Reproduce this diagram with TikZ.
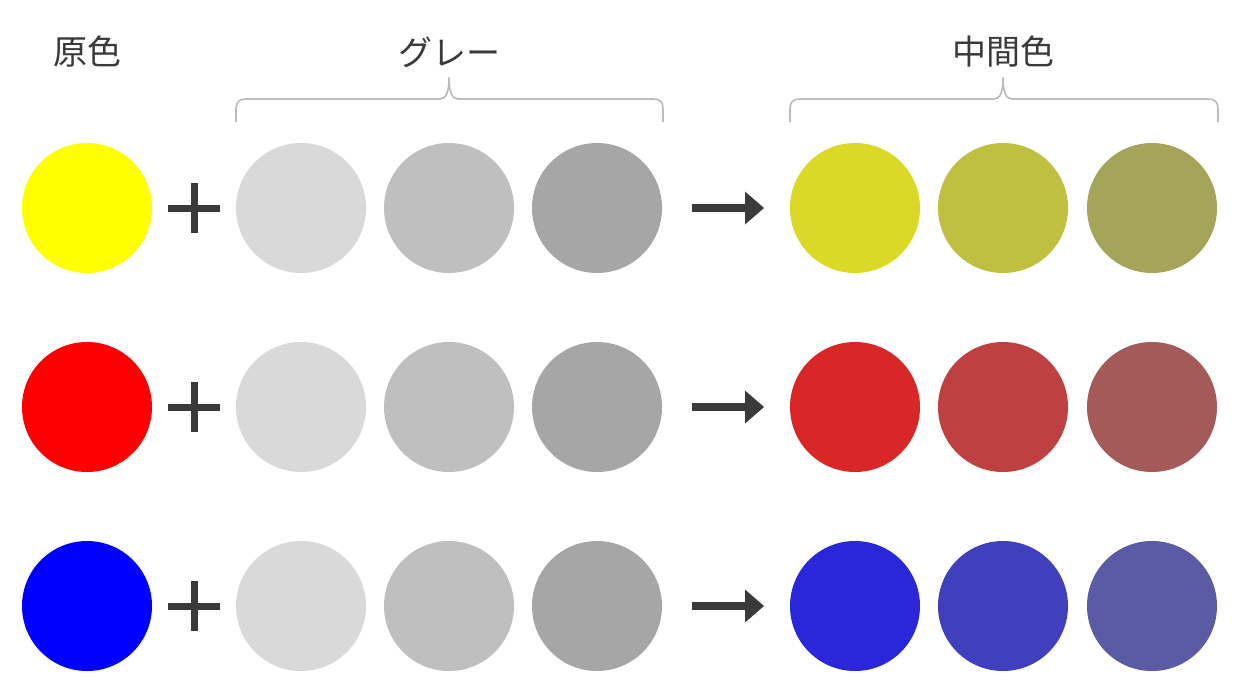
\documentclass[tikz,border=0pt]{standalone}
\usepackage{fontspec}
\newfontfamily\jp{Noto Sans CJK JP}
\definecolor{txt}{HTML}{3A3A3A}
\definecolor{pY}{HTML}{FFFF00}
\definecolor{pR}{HTML}{FF0000}
\definecolor{pB}{HTML}{0000FF}
\definecolor{gA}{HTML}{D9D9D9}
\definecolor{gB}{HTML}{BFBFBF}
\definecolor{gC}{HTML}{A6A6A6}
\definecolor{yA}{HTML}{D9D926}
\definecolor{yB}{HTML}{BFBF40}
\definecolor{yC}{HTML}{A5A55A}
\definecolor{rA}{HTML}{D92626}
\definecolor{rB}{HTML}{BF4040}
\definecolor{rC}{HTML}{A55A5A}
\definecolor{bA}{HTML}{2A26D9}
\definecolor{bB}{HTML}{4040BF}
\definecolor{bC}{HTML}{5A5AA5}
\definecolor{brc}{HTML}{BBBBBB}
\begin{document}
\begin{tikzpicture}[x=1pt,y=-1pt,
  dot/.style={circle,minimum size=130pt,inner sep=0pt,draw=none},
  lbl/.style={font=\jp\fontsize{34}{40}\selectfont,text=txt,inner sep=0pt},
  sym/.style={draw=txt,line width=7pt},
  bracepath/.style={draw=brc,line width=1.6pt,line join=round}]
\useasboundingbox[fill=white] (0,0) rectangle (1240,697);
% labels
\node[lbl] (l1) at (87,52) {原色};
\node[lbl] (l2) at (449,52) {グレー};
\node[lbl] (l3) at (1003,52) {中間色};
% braces
\draw[bracepath] (236,122) -- (236,109) .. controls (236,102) and (239,99) .. (246,99)
  -- (440,99) .. controls (446,99) and (449,92) .. (449,78)
  .. controls (449,92) and (452,99) .. (458,99) -- (653,99)
  .. controls (660,99) and (663,102) .. (663,109) -- (663,122);
\draw[bracepath] (790,122) -- (790,109) .. controls (790,102) and (793,99) .. (800,99)
  -- (994,99) .. controls (1000,99) and (1003,92) .. (1003,78)
  .. controls (1003,92) and (1006,99) .. (1012,99) -- (1208,99)
  .. controls (1215,99) and (1218,102) .. (1218,109) -- (1218,122);
% rows
\foreach \y/\p/\ma/\mb/\mc/\r in {208/pY/yA/yB/yC/1, 407/pR/rA/rB/rC/2, 606/pB/bA/bB/bC/3}{
  \node[dot,fill=\p] (p\r) at (87,\y) {};
  \node[dot,fill=gA] (g\r a) at (301,\y) {};
  \node[dot,fill=gB] (g\r b) at (449,\y) {};
  \node[dot,fill=gC] (g\r c) at (597,\y) {};
  \node[dot,fill=\ma] (m\r a) at (855,\y) {};
  \node[dot,fill=\mb] (m\r b) at (1003,\y) {};
  \node[dot,fill=\mc] (m\r c) at (1152,\y) {};
  \coordinate (pl\r) at (194,\y);
  \draw[sym] ([xshift=-26pt]pl\r) -- ([xshift=26pt]pl\r);
  \draw[sym] ([yshift=-25pt]pl\r) -- ([yshift=25pt]pl\r);
  \coordinate (as\r) at (692,\y);
  \coordinate (ae\r) at (747,\y);
  \draw[draw=txt,line width=8pt] (as\r) -- (ae\r);
  \fill[txt] ([yshift=-16.5pt]745,\y) -- (764,\y) -- ([yshift=16.5pt]745,\y) -- cycle;
}
\end{tikzpicture}
\end{document}
